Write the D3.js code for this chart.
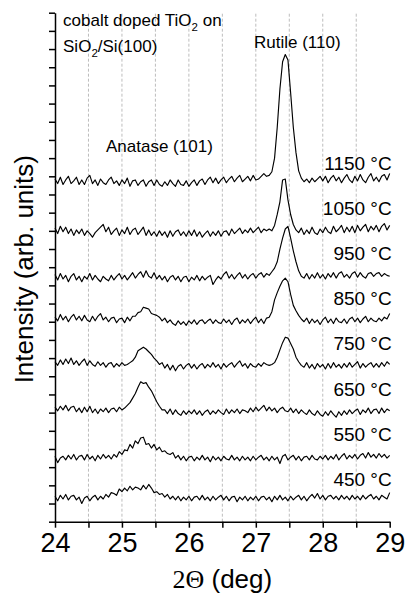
<!DOCTYPE html>
<html>
<head>
<meta charset="utf-8">
<script src="https://cdn.jsdelivr.net/npm/d3@7"></script>
<style>
  html, body { margin: 0; padding: 0; background: #fff; }
  svg { display: block; font-family: "Liberation Sans", Arial, Helvetica, sans-serif; }
</style>
</head>
<body>
<svg id="chart" width="408" height="598"></svg>
<script>
// XRD scans of cobalt doped TiO2 films, sampled from 24° to 29° (2Θ) every 0.04°
const angleStart = 24;
const angleStep = 0.04;

const temperatures = ["450 °C", "550 °C", "650 °C", "750 °C", "850 °C", "950 °C", "1050 °C", "1150 °C"];

// vertical offset of each scan in the stack (arb. units)
const traceOffsets = [1.3, 3.5, 6.1, 8.6, 11.0, 13.4, 15.9, 18.7];
// level of each temperature label (arb. units)
const labelLevels = [1.97, 4.45, 6.93, 9.42, 11.9, 14.38, 16.87, 19.35];

const xTickValues = [24, 24.5, 25, 25.5, 26, 26.5, 27, 27.5, 28, 28.5, 29];
const gridAngles = [24.5, 25, 25.5, 26, 26.5, 27, 27.5, 28, 28.5];
const yTickValues = [0, 1, 2, 3, 4, 5, 6, 7, 8, 9, 10, 11, 12, 13, 14, 15, 16, 17, 18, 19, 20, 21, 22, 23, 24, 25, 26, 27, 28];

const intensity450 = [
  0.10, -0.15, 0.15, -0.05, 0.20, -0.10, 0.10, 0.15, -0.10, 0.05,
  -0.30, 0.00, 0.10, -0.15, 0.05, 0.15, -0.10, 0.10, -0.05, 0.20,
  0.05, 0.30, 0.25, 0.15, 0.50, 0.35, 0.55, 0.40, 0.65, 0.45,
  0.60, 0.55, 0.45, 0.70, 0.50, 0.75, 0.55, 0.30, 0.35, 0.20,
  0.25, 0.05, 0.20, -0.05, 0.10, -0.10, 0.10, -0.15, 0.05, -0.10,
  0.10, -0.15, 0.05, 0.10, -0.10, 0.15, -0.10, 0.05, -0.15, 0.10,
  -0.10, 0.05, 0.15, -0.10, 0.10, -0.15, 0.05, 0.10, -0.20, 0.05,
  -0.10, 0.10, -0.15, 0.05, -0.10, 0.10, -0.15, 0.05, 0.10, -0.10,
  0.05, -0.20, 0.10, -0.10, 0.15, -0.10, 0.05, -0.15, 0.10, -0.10,
  0.05, 0.15, -0.10, 0.10, -0.15, 0.05, 0.20, 0.00, 0.25, -0.05,
  0.15, -0.10, 0.10, 0.15, -0.05, 0.10, -0.10, 0.15, -0.05, 0.10,
  -0.10, 0.15, -0.05, 0.10, -0.10, 0.15, -0.05, 0.10, 0.20, -0.05,
  0.10, -0.10, 0.15, 0.05, -0.05, 0.30
];

const intensity550 = [
  0.10, -0.25, 0.00, 0.10, -0.10, 0.15, -0.05, 0.20, -0.10, 0.10,
  0.15, -0.10, 0.20, -0.05, 0.10, -0.15, 0.15, -0.05, 0.20, 0.00,
  0.15, -0.05, 0.20, 0.05, 0.35, 0.20, 0.45, 0.40, 0.75, 0.55,
  0.95, 0.80, 1.10, 1.15, 0.75, 0.80, 0.55, 0.75, 0.45, 0.60,
  0.35, 0.40, 0.25, 0.20, 0.30, 0.00, 0.15, -0.10, 0.10, -0.15,
  0.05, 0.10, -0.15, 0.05, -0.10, 0.15, -0.10, 0.05, -0.20, 0.10,
  -0.10, 0.05, -0.15, 0.10, -0.05, -0.10, 0.15, -0.10, 0.05, -0.15,
  0.10, -0.10, 0.05, -0.15, 0.10, -0.10, 0.05, 0.15, -0.10, 0.05,
  -0.15, 0.10, -0.10, 0.05, -0.30, 0.10, 0.20, -0.10, 0.05, 0.15,
  -0.10, 0.10, -0.15, 0.05, 0.10, -0.10, 0.15, -0.05, -0.10, 0.10,
  -0.05, 0.15, -0.10, 0.10, -0.05, 0.20, -0.10, 0.10, 0.25, -0.05,
  0.15, 0.00, 0.20, -0.05, 0.15, 0.25, 0.00, 0.30, 0.05, 0.20,
  0.00, 0.25, 0.05, 0.20, 0.00, 0.15
];

const intensity650 = [
  0.20, 0.00, 0.25, 0.05, 0.30, 0.00, 0.20, 0.25, -0.05, 0.15,
  -0.10, 0.20, -0.05, 0.25, -0.10, 0.10, -0.15, 0.10, -0.05, 0.15,
  -0.10, 0.10, 0.15, -0.05, 0.20, 0.05, 0.15, 0.30, 0.45, 0.70,
  0.95, 1.30, 1.60, 1.50, 1.55, 1.30, 1.10, 0.80, 0.50, 0.25,
  0.05, 0.05, -0.15, 0.10, -0.20, 0.05, -0.15, -0.25, 0.00, -0.20,
  0.00, -0.15, 0.05, -0.20, 0.00, -0.25, -0.05, 0.05, -0.20, 0.00,
  -0.15, 0.05, -0.10, -0.20, 0.10, -0.15, 0.05, -0.10, 0.10, -0.15,
  0.05, 0.00, -0.10, 0.15, -0.05, 0.20, 0.00, 0.15, 0.30, 0.00,
  0.20, 0.00, 0.15, -0.10, 0.10, 0.20, 0.00, -0.05, 0.15, -0.10,
  0.10, -0.15, 0.05, -0.10, -0.20, 0.05, -0.15, -0.25, 0.00, -0.20,
  -0.30, -0.05, -0.25, 0.00, -0.20, -0.35, -0.05, -0.25, 0.00, -0.20,
  0.05, -0.15, 0.00, 0.10, -0.20, 0.05, -0.10, 0.15, -0.15, 0.05,
  0.10, -0.15, 0.15, -0.10, 0.10, 0.00
];

const intensity750 = [
  0.20, 0.00, 0.30, 0.05, 0.35, 0.10, 0.40, 0.05, 0.25, 0.00,
  0.20, 0.35, 0.00, 0.25, 0.05, -0.05, 0.20, 0.00, 0.15, -0.10,
  0.10, 0.15, -0.10, 0.10, -0.05, 0.15, 0.00, 0.05, 0.15, 0.25,
  0.45, 0.80, 0.90, 1.00, 0.90, 0.75, 0.60, 0.40, 0.25, 0.05,
  0.15, -0.15, 0.05, -0.25, 0.00, -0.30, -0.05, 0.05, -0.20, 0.00,
  0.10, -0.15, 0.05, -0.20, 0.00, 0.10, -0.15, 0.05, -0.10, 0.15,
  -0.10, 0.05, -0.20, 0.10, -0.10, 0.05, 0.15, -0.10, 0.10, 0.25,
  -0.05, 0.10, -0.15, 0.10, -0.05, -0.10, 0.10, -0.05, 0.15, 0.05,
  0.00, 0.05, 0.15, 0.45, 0.85, 1.25, 1.55, 1.50, 1.20, 0.90,
  0.45, 0.20, 0.00, -0.10, 0.15, -0.15, 0.05, -0.20, 0.10, -0.10,
  0.05, -0.20, 0.10, -0.15, 0.15, -0.10, 0.05, -0.15, 0.10, -0.10,
  0.15, -0.10, 0.05, 0.20, -0.15, 0.10, -0.10, 0.05, 0.15, -0.10,
  0.10, -0.10, 0.15, -0.05, 0.20, 0.05
];

const intensity850 = [
  0.25, 0.05, 0.40, 0.10, 0.30, 0.00, 0.25, 0.40, 0.10, 0.30,
  0.05, 0.35, 0.10, 0.00, 0.30, 0.05, 0.30, 0.45, 0.10, 0.25,
  0.00, 0.20, 0.25, -0.05, 0.15, 0.20, -0.05, 0.25, 0.05, 0.30,
  0.30, 0.50, 0.55, 0.80, 0.75, 0.70, 0.45, 0.40, 0.35, 0.25,
  0.05, 0.20, -0.05, 0.10, -0.10, -0.20, 0.05, -0.15, 0.00, -0.20,
  0.05, -0.10, 0.10, -0.15, 0.05, 0.10, -0.10, 0.05, 0.15, -0.10,
  0.10, -0.05, -0.10, 0.15, -0.05, 0.10, -0.15, 0.10, 0.20, -0.10,
  0.10, -0.05, 0.15, -0.10, 0.10, 0.25, -0.05, 0.15, -0.10, 0.20,
  0.25, 0.55, 1.20, 1.60, 1.95, 2.25, 2.40, 2.20, 1.50, 0.90,
  0.60, 0.35, 0.15, 0.00, 0.20, -0.10, 0.15, -0.05, 0.10, -0.15,
  0.10, 0.25, -0.05, 0.15, -0.10, 0.20, 0.00, -0.05, 0.15, -0.10,
  0.15, 0.25, 0.00, 0.20, -0.05, 0.15, 0.30, 0.00, 0.20, 0.05,
  0.00, 0.20, 0.05, 0.25, 0.15, 0.45
];

const intensity950 = [
  0.20, -0.10, 0.25, -0.05, 0.15, -0.20, 0.10, 0.25, -0.10, 0.10,
  -0.20, 0.10, -0.05, 0.25, -0.10, 0.15, -0.05, -0.20, 0.10, -0.05,
  -0.15, 0.15, -0.10, 0.10, 0.25, -0.05, 0.15, -0.10, 0.10, 0.30,
  0.00, 0.20, 0.35, 0.05, 0.40, 0.10, 0.00, 0.30, -0.05, 0.15,
  -0.10, 0.10, -0.20, 0.05, 0.15, -0.10, 0.10, -0.20, 0.05, 0.10,
  -0.20, 0.05, -0.10, 0.15, -0.15, 0.10, -0.10, 0.05, 0.15, -0.35,
  -0.10, 0.10, -0.05, 0.20, 0.35, 0.00, 0.20, -0.05, 0.15, 0.30,
  0.00, 0.20, -0.05, 0.15, 0.25, 0.00, 0.20, 0.30, 0.05, 0.25,
  0.15, 0.35, 0.55, 0.90, 1.60, 2.20, 2.70, 2.85, 2.20, 1.50,
  0.90, 0.40, 0.10, 0.00, 0.25, -0.05, 0.20, 0.00, 0.30, 0.00,
  0.20, -0.05, 0.25, 0.05, 0.30, 0.00, 0.25, 0.35, 0.05, 0.20,
  0.00, 0.25, 0.35, 0.05, 0.30, 0.10, 0.00, 0.25, 0.30, 0.10,
  0.25, 0.30, 0.10, 0.25, 0.15, 0.10
];

const intensity1050 = [
  0.25, -0.05, 0.35, 0.05, 0.30, -0.05, 0.20, -0.15, 0.15, -0.05,
  0.20, -0.15, 0.10, -0.05, -0.25, 0.00, 0.15, 0.30, 0.45, 0.05,
  0.30, -0.10, 0.10, 0.25, -0.15, 0.15, -0.05, 0.30, -0.10, 0.15,
  0.25, -0.10, 0.10, 0.30, -0.15, 0.15, -0.15, 0.05, -0.20, 0.10,
  -0.15, 0.05, -0.25, 0.10, -0.20, 0.05, 0.15, -0.15, 0.05, -0.20,
  0.10, -0.15, 0.15, -0.20, 0.05, -0.25, -0.05, 0.10, -0.20, 0.05,
  -0.15, 0.10, -0.20, 0.05, 0.10, -0.15, 0.20, -0.05, 0.10, 0.25,
  -0.05, 0.15, 0.00, 0.25, 0.00, 0.15, 0.30, 0.00, 0.20, 0.10,
  0.20, 0.10, 0.40, 1.00, 1.70, 2.90, 2.95, 1.80, 1.00, 0.45,
  0.15, 0.00, 0.25, -0.10, 0.15, -0.05, 0.30, 0.00, -0.10, 0.20,
  0.00, 0.30, 0.05, -0.05, 0.35, 0.05, 0.20, 0.40, 0.00, 0.30,
  0.05, 0.35, 0.00, 0.40, 0.10, 0.30, 0.45, 0.05, 0.35, 0.15,
  0.40, 0.05, 0.35, 0.50, 0.15, 0.40
];

const intensity1150 = [
  0.15, -0.10, 0.25, -0.15, 0.10, 0.30, -0.10, 0.05, 0.25, -0.15,
  0.10, -0.15, 0.20, 0.35, -0.10, 0.10, -0.20, 0.15, -0.05, -0.15,
  0.10, 0.25, -0.10, 0.05, -0.20, 0.10, -0.10, 0.20, -0.25, 0.05,
  0.10, -0.20, 0.00, 0.10, -0.25, 0.00, 0.10, -0.20, 0.10, -0.15,
  -0.25, 0.00, -0.20, 0.10, -0.10, -0.25, 0.10, -0.15, -0.20, 0.05,
  -0.25, -0.05, 0.10, -0.20, 0.05, 0.15, -0.15, 0.10, 0.25, -0.05,
  0.20, -0.10, 0.10, 0.25, -0.05, 0.15, 0.30, 0.00, 0.20, 0.35,
  0.00, 0.15, 0.30, 0.05, 0.35, 0.10, 0.15, 0.30, 0.45, 0.30,
  0.35, 0.55, 1.30, 3.00, 5.10, 6.60, 7.00, 6.70, 4.90, 3.00,
  1.60, 0.60, 0.20, 0.00, 0.15, -0.05, 0.20, 0.00, 0.15, 0.30,
  0.05, 0.30, -0.05, 0.20, 0.35, 0.05, 0.25, -0.05, 0.20, 0.40,
  0.10, -0.05, 0.30, 0.05, 0.40, 0.10, -0.05, 0.25, 0.45, 0.05,
  0.25, 0.00, 0.30, 0.40, 0.10, 0.45
];

const scans = [intensity450, intensity550, intensity650, intensity750,
               intensity850, intensity950, intensity1050, intensity1150];

const svg = d3.select("#chart");

const x = d3.scaleLinear().domain([24, 29]).range([55, 389.7]);
const y = d3.scaleLinear().domain([0, 28]).range([521.7, 12.7]);

// dashed vertical guides
svg.append("g")
  .selectAll("line")
  .data(gridAngles)
  .join("line")
  .attr("x1", d => x(d)).attr("x2", d => x(d))
  .attr("y1", y(0)).attr("y2", y(28))
  .attr("stroke", "#bdbdbd")
  .attr("stroke-width", 1)
  .attr("stroke-dasharray", "3,2");

// stacked diffraction scans
const line = d3.line()
  .x((d, i) => x(angleStart + i * angleStep))
  .y(d => d);

svg.append("g")
  .selectAll("path")
  .data(scans)
  .join("path")
  .attr("d", (s, k) => line(s.map(v => y(v + traceOffsets[k]))))
  .attr("fill", "none")
  .attr("stroke", "#000")
  .attr("stroke-width", 1.15)
  .attr("stroke-linejoin", "round");

// axes
const xAxis = d3.axisBottom(x)
  .tickValues(xTickValues)
  .tickFormat(d => Number.isInteger(d) ? d : "")
  .tickSize(6)
  .tickSizeOuter(0)
  .tickPadding(5.5);

const gx = svg.append("g")
  .attr("transform", `translate(0,${y(0)})`)
  .call(xAxis);
gx.select(".domain").attr("stroke-width", 1.5);
gx.selectAll(".tick line").attr("stroke-width", 1.5);
gx.selectAll(".tick text")
  .attr("font-size", 27)
  .attr("font-family", "'Liberation Sans', Arial, sans-serif")
  .attr("fill", "#000");

const yAxis = d3.axisLeft(y)
  .tickValues(yTickValues)
  .tickFormat("")
  .tickSize(6)
  .tickSizeOuter(0);

const gy = svg.append("g")
  .attr("transform", `translate(${x(24)},0)`)
  .call(yAxis);
gy.select(".domain").attr("stroke-width", 1.5);
gy.selectAll(".tick line").attr("stroke-width", 1.5);

// temperature labels
svg.append("g")
  .selectAll("text")
  .data(temperatures)
  .join("text")
  .attr("x", x(29) + 2)
  .attr("y", (d, k) => y(labelLevels[k]))
  .attr("text-anchor", "end")
  .attr("font-size", 19)
  .attr("fill", "#000")
  .text(d => d);

// reflection labels
svg.append("text")
  .attr("x", x(27.62)).attr("y", y(26.04))
  .attr("text-anchor", "middle")
  .attr("font-size", 17)
  .text("Rutile (110)");

svg.append("text")
  .attr("x", x(25.56)).attr("y", y(20.33))
  .attr("text-anchor", "middle")
  .attr("font-size", 17)
  .text("Anatase (101)");

// sample description
const desc1 = svg.append("text")
  .attr("x", x(24.12)).attr("y", y(27.29))
  .attr("font-size", 17);
desc1.append("tspan").text("cobalt doped TiO");
desc1.append("tspan").attr("font-size", 11.5).attr("dy", 5).text("2");
desc1.append("tspan").attr("dy", -5).text(" on");

const desc2 = svg.append("text")
  .attr("x", x(24.12)).attr("y", y(25.86))
  .attr("font-size", 17);
desc2.append("tspan").text("SiO");
desc2.append("tspan").attr("font-size", 11.5).attr("dy", 5).text("2");
desc2.append("tspan").attr("dy", -5).text("/Si(100)");

// axis titles
const xTitle = svg.append("text")
  .attr("x", (x(24) + x(29)) / 2)
  .attr("y", 588)
  .attr("text-anchor", "middle")
  .attr("font-size", 26);
xTitle.append("tspan").attr("font-family", "'Liberation Serif', 'Times New Roman', serif").text("2Θ");
xTitle.append("tspan").text(" (deg)");

svg.append("text")
  .attr("transform", `translate(33,${(y(0) + y(28)) / 2 + 2}) rotate(-90)`)
  .attr("text-anchor", "middle")
  .attr("font-size", 26)
  .text("Intensity (arb. units)");
</script>
</body>
</html>
